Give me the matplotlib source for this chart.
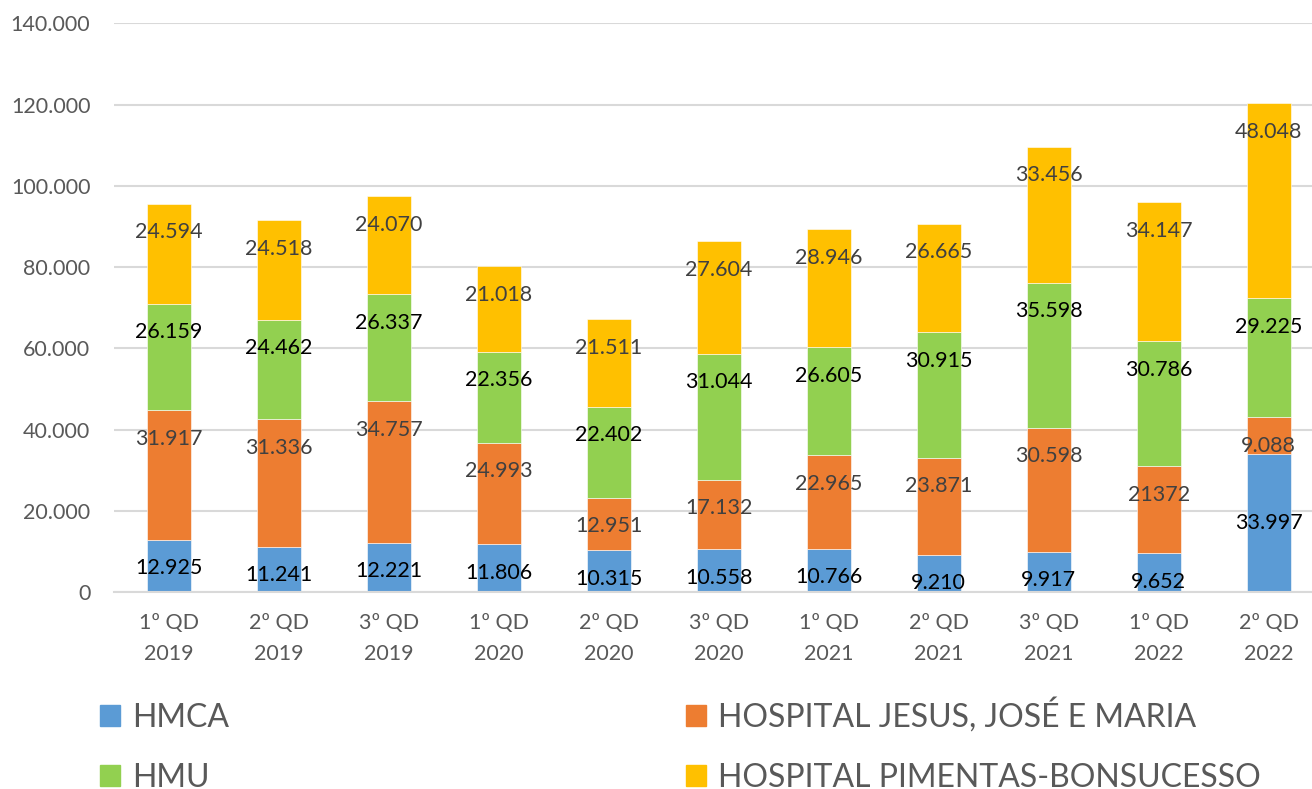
import matplotlib.pyplot as plt
from matplotlib.patches import Rectangle
from matplotlib.ticker import FuncFormatter

# categories (quadrimestres)
periods = ['1º QD\n2019', '2º QD\n2019', '3º QD\n2019',
           '1º QD\n2020', '2º QD\n2020', '3º QD\n2020',
           '1º QD\n2021', '2º QD\n2021', '3º QD\n2021',
           '1º QD\n2022', '2º QD\n2022']

# series values
hmca = [12925, 11241, 12221, 11806, 10315, 10558, 10766, 9210, 9917, 9652, 33997]
hjjm = [31917, 31336, 34757, 24993, 12951, 17132, 22965, 23871, 30598, 21372, 9088]
hmu = [26159, 24462, 26337, 22356, 22402, 31044, 26605, 30915, 35598, 30786, 29225]
hpb = [24594, 24518, 24070, 21018, 21511, 27604, 28946, 26665, 33456, 34147, 48048]

names = ['HMCA', 'HOSPITAL JESUS, JOSÉ E MARIA', 'HMU', 'HOSPITAL PIMENTAS-BONSUCESSO']
colors = ['#5B9BD5', '#ED7D31', '#92D050', '#FFC000']
label_colors = ['black', '#404040', 'black', '#404040']

# one label in the original was typed without the thousands dot
label_override = {(1, 9): '21372'}
# the last HMCA label sits in the middle of its segment
centered_labels = {(0, 10)}

plt.rcParams['font.family'] = ['Lato', 'DejaVu Sans']

fig = plt.figure(figsize=(13.12, 7.89), dpi=100)
ax = fig.add_axes([0.0869, 0.2493, 0.9219, 0.7212])

x = list(range(len(periods)))
series = [hmca, hjjm, hmu, hpb]
bottom = [0] * len(periods)
for s, (vals, col) in enumerate(zip(series, colors)):
    ax.bar(x, vals, 0.40, bottom=bottom, color=col, edgecolor='white',
           linewidth=0.4, zorder=2)
    for i, v in enumerate(vals):
        txt = label_override.get((s, i), f'{v:,}'.replace(',', '.'))
        if (s, i) in centered_labels:
            ax.annotate(txt, (i, bottom[i] + v / 2), ha='center', va='center',
                        fontsize=15.5, color=label_colors[s], zorder=3)
        else:
            ax.annotate(txt, (i, bottom[i] + v), xytext=(0, -20.5),
                        textcoords='offset points', ha='center', va='center',
                        fontsize=15.5, color=label_colors[s], zorder=3)
    bottom = [b + v for b, v in zip(bottom, vals)]

ax.set_xlim(-0.5, len(periods) - 0.5)
ax.set_ylim(0, 140000)
ax.set_yticks(range(0, 140001, 20000))
ax.yaxis.set_major_formatter(FuncFormatter(lambda v, p: f'{int(v):,}'.replace(',', '.')))
ax.set_xticks(x)
ax.set_xticklabels(periods, linespacing=1.7)
ax.tick_params(axis='both', length=0, labelsize=15.5, colors='#595959')
ax.tick_params(axis='y', pad=17)
ax.tick_params(axis='x', pad=15)
ax.grid(axis='y', color='#D9D9D9', linewidth=1.5, zorder=0)
for side in ['top', 'right', 'left']:
    ax.spines[side].set_visible(False)
ax.spines['bottom'].set_color('#D9D9D9')
ax.spines['bottom'].set_linewidth(1.5)

# legend: 2 columns, row order HMCA / HJJM, HMU / HPB
handles = [Rectangle((0, 0), 1, 1, color=c) for c in colors]
order = [0, 2, 1, 3]
leg = fig.legend([handles[i] for i in order], [names[i] for i in order],
                 ncol=2, loc='upper left', bbox_to_anchor=(0.0762, 0.1155),
                 frameon=False, fontsize=23.0, handlelength=0.63, handleheight=0.63,
                 handletextpad=0.37, columnspacing=14.3, labelspacing=0.94,
                 borderpad=0, borderaxespad=0, labelcolor='#595959')

fig.savefig('out.png', dpi=100)
